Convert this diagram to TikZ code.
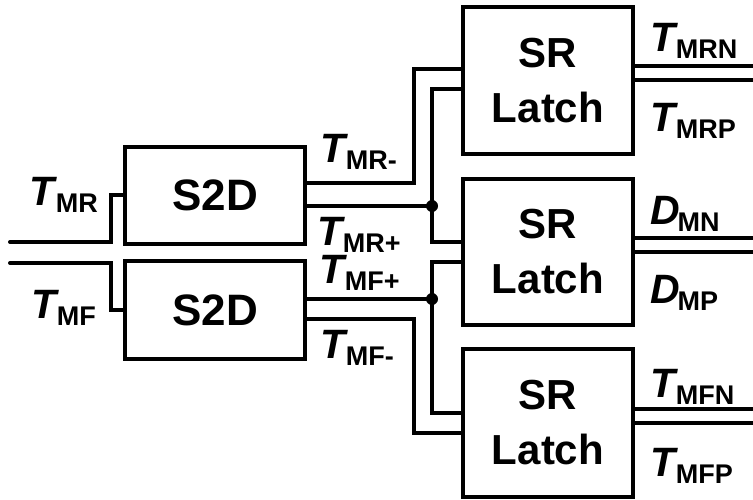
\documentclass[tikz,border=0pt]{standalone}
\usepackage{fontspec}
\setmainfont{Liberation Sans}
\usetikzlibrary{calc,positioning}
\newcommand{\sig}[2]{\textbf{\textit{#1}}\kern-2pt\raisebox{-7pt}{\fontsize{27}{27}\selectfont\textbf{#2}}}

\begin{document}
\begin{tikzpicture}[x=1pt,y=-1pt,line width=4pt,
  block/.style={draw, rectangle, align=center, inner sep=0pt, font=\fontsize{42}{55}\selectfont\bfseries},
  sigl/.style={anchor=base west, inner sep=0pt, font=\fontsize{41}{41}\selectfont}]
\useasboundingbox (0,0) rectangle (753,500);
% blocks
\node[block, minimum width=180pt, minimum height=97pt, font=\fontsize{44}{44}\selectfont\bfseries] (s2dr) at (215,195.5) {S2D};
\node[block, minimum width=180pt, minimum height=98pt, font=\fontsize{44}{44}\selectfont\bfseries] (s2df) at (215,310) {S2D};
\node[block, minimum width=170pt, minimum height=147pt] (latr) at (548,80.5) {SR\\Latch};
\node[block, minimum width=170pt, minimum height=146pt] (latd) at (548,252) {SR\\Latch};
\node[block, minimum width=170pt, minimum height=148pt] (latf) at (548,423) {SR\\Latch};
% inputs
\coordinate (inr) at (10,242);
\coordinate (inf) at (10,263);
\draw[line cap=round] (inr) -- ++(101,0) |- (s2dr.west);
\draw[line cap=round] (inf) -- ++(101,0) |- (s2df.west);
% S2D outputs
\coordinate (dotr) at (432,206);
\coordinate (dotf) at (432,299);
\draw ([yshift=12pt]s2dr.east) -- ++(107,0) |- ([yshift=11.5pt]latr.west);
\draw ([yshift=-10.5pt]s2dr.east) -- (dotr);
\draw (dotr) |- ([yshift=-8.5pt]latr.west);
\draw (dotr) |- ([yshift=10pt]latd.west);
\draw ([yshift=11pt]s2df.east) -- (dotf);
\draw (dotf) |- ([yshift=-10pt]latd.west);
\draw (dotf) |- ([yshift=10pt]latf.west);
\draw ([yshift=-9pt]s2df.east) -- ++(107,0) |- ([yshift=-10pt]latf.west);
\fill (dotr) circle (6pt);
\fill (dotf) circle (6pt);
% latch outputs
\draw ([yshift=14pt]latr.east) -- ++(120,0);
\draw (latr.east) -- ++(120,0);
\draw ([yshift=14pt]latd.east) -- ++(120,0);
\draw (latd.east) -- ++(120,0);
\draw ([yshift=14pt]latf.east) -- ++(120,0);
\draw (latf.east) -- ++(120,0);
% labels
\node[sigl] (ltmr) at (28,206) {\sig{T}{MR}};
\node[sigl] (ltmf) at (29,318) {\sig{T}{MF}};
\node[sigl] (ltmrm) at (318,163) {\sig{T}{MR-}};
\node[sigl] (ltmrp) at (315,245) {\sig{T}{MR+}};
\node[sigl] (ltmfp) at (317,283) {\sig{T}{MF+}};
\node[sigl] (ltmfm) at (318,358) {\sig{T}{MF-}};
\node[sigl] (ltmrn) at (648,52) {\sig{T}{MRN}};
\node[sigl] (ltmrpo) at (648,132) {\sig{T}{MRP}};
\node[sigl] (ldmn) at (648,225) {\sig{D}{MN}};
\node[sigl] (ldmp) at (648,303) {\sig{D}{MP}};
\node[sigl] (ltmfn) at (648,397) {\sig{T}{MFN}};
\node[sigl] (ltmfpo) at (648,476) {\sig{T}{MFP}};
\end{tikzpicture}
\end{document}
